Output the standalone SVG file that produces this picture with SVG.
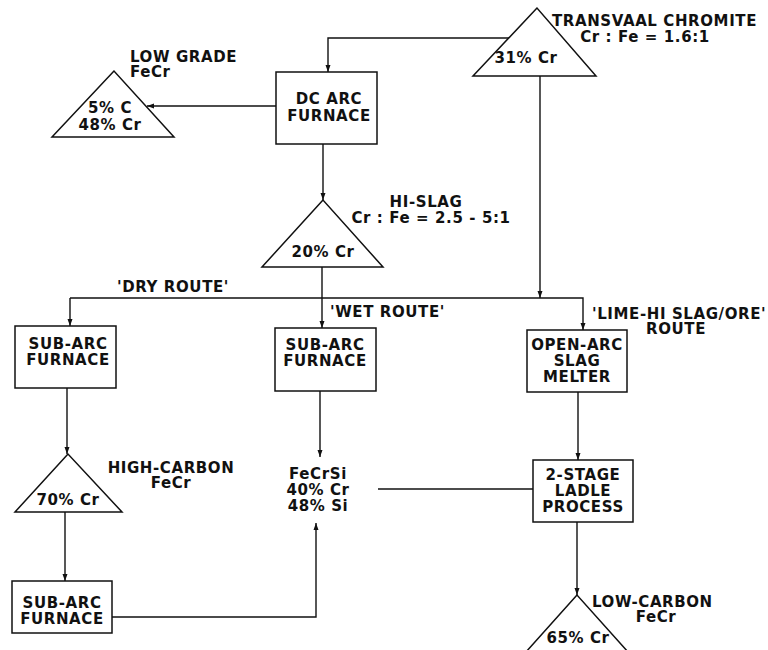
<svg xmlns="http://www.w3.org/2000/svg" width="768" height="650" viewBox="0 0 768 650">
<style>
.t{font-family:"DejaVu Sans","Liberation Sans",sans-serif;font-weight:bold;font-size:15px;letter-spacing:0.6px;fill:#111;}
.m{text-anchor:middle;}
.n{fill:#fff;stroke:#111;stroke-width:1.5;}
.c{fill:none;stroke:#111;stroke-width:1.4;}
</style>
<defs>
<marker id="a" markerWidth="8" markerHeight="8" refX="7" refY="4" orient="auto" markerUnits="userSpaceOnUse">
<path d="M0,1.5 L7,4 L0,6.5 Z" fill="#111"/>
</marker>
</defs>
<rect width="768" height="650" fill="#fff"/>
<g id="connectors">
<path class="c" d="M509,38 H328 V72" marker-end="url(#a)"/>
<path class="c" d="M276,106 H147" marker-end="url(#a)"/>
<path class="c" d="M323,144 V200" marker-end="url(#a)"/>
<path class="c" d="M540,76 V298" marker-end="url(#a)"/>
<path class="c" d="M70,298 H583 V330" marker-end="url(#a)"/>
<path class="c" d="M70,298 V326" marker-end="url(#a)"/>
<path class="c" d="M322,267 V328" marker-end="url(#a)"/>
<path class="c" d="M67,388 V454" marker-end="url(#a)"/>
<path class="c" d="M65,512 V581" marker-end="url(#a)"/>
<path class="c" d="M112,617 H316 V523" marker-end="url(#a)"/>
<path class="c" d="M320,391 V457" marker-end="url(#a)"/>
<path class="c" d="M378,489 H533"/>
<path class="c" d="M578,392 V460" marker-end="url(#a)"/>
<path class="c" d="M577,522 V595" marker-end="url(#a)"/>
</g>
<g id="transvaal">
<polygon class="n" points="537,8 473,76 596,76"/>
<text class="t m" x="526" y="63">31% Cr</text>
<text class="t" x="552" y="26">TRANSVAAL CHROMITE</text>
<text class="t m" x="645" y="42">Cr : Fe = 1.6:1</text>
</g>
<g id="lowgrade">
<polygon class="n" points="114,71 52,137 174,137"/>
<text class="t m" x="110" y="113">5% C</text>
<text class="t m" x="110" y="130">48% Cr</text>
<text class="t" x="130" y="62">LOW GRADE</text>
<text class="t" x="130" y="77">FeCr</text>
</g>
<g id="dcarc">
<rect class="n" x="276" y="72" width="101" height="72"/>
<text class="t m" x="329" y="104">DC ARC</text>
<text class="t m" x="329" y="121">FURNACE</text>
</g>
<g id="hislag">
<polygon class="n" points="323,200 262,267 383,267"/>
<text class="t m" x="323" y="257">20% Cr</text>
<text class="t m" x="426" y="207">HI-SLAG</text>
<text class="t m" x="431" y="223">Cr : Fe = 2.5 - 5:1</text>
</g>
<g id="routes">
<text class="t" x="117" y="292">'DRY ROUTE'</text>
<text class="t" x="330" y="317">'WET ROUTE'</text>
<text class="t" x="592" y="319">'LIME-HI SLAG/ORE'</text>
<text class="t m" x="676" y="334">ROUTE</text>
</g>
<g id="subarc1">
<rect class="n" x="15" y="326" width="101" height="62"/>
<text class="t m" x="68" y="349">SUB-ARC</text>
<text class="t m" x="68" y="365">FURNACE</text>
</g>
<g id="subarc2">
<rect class="n" x="275" y="328" width="101" height="63"/>
<text class="t m" x="325" y="350">SUB-ARC</text>
<text class="t m" x="325" y="366">FURNACE</text>
</g>
<g id="openarc">
<rect class="n" x="527" y="330" width="100" height="62"/>
<text class="t m" x="577" y="350">OPEN-ARC</text>
<text class="t m" x="577" y="366">SLAG</text>
<text class="t m" x="577" y="382">MELTER</text>
</g>
<g id="highcarbon">
<polygon class="n" points="68,454 15,512 122,512"/>
<text class="t m" x="68" y="505">70% Cr</text>
<text class="t m" x="171" y="473">HIGH-CARBON</text>
<text class="t m" x="171" y="488">FeCr</text>
</g>
<g id="fecrsi">
<text class="t m" x="318" y="479">FeCrSi</text>
<text class="t m" x="318" y="495">40% Cr</text>
<text class="t m" x="318" y="511">48% Si</text>
</g>
<g id="ladle">
<rect class="n" x="533" y="460" width="100" height="62"/>
<text class="t m" x="583" y="480">2-STAGE</text>
<text class="t m" x="583" y="496">LADLE</text>
<text class="t m" x="583" y="512">PROCESS</text>
</g>
<g id="subarc3">
<rect class="n" x="12" y="581" width="100" height="52"/>
<text class="t m" x="62" y="608">SUB-ARC</text>
<text class="t m" x="62" y="624">FURNACE</text>
</g>
<g id="lowcarbon">
<polygon class="n" points="577,595 517,662 637,662"/>
<text class="t m" x="578" y="643">65% Cr</text>
<text class="t" x="592" y="607">LOW-CARBON</text>
<text class="t m" x="656" y="622">FeCr</text>
</g>
</svg>
